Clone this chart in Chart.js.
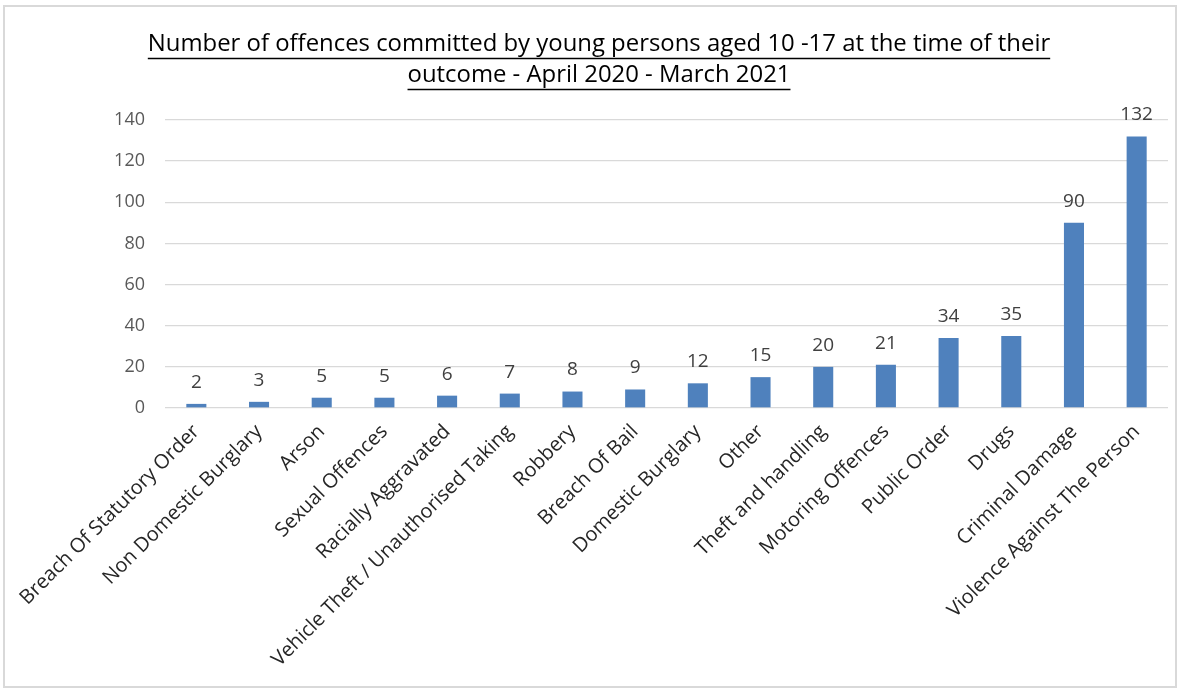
<!DOCTYPE html>
<html>
<head>
<meta charset="utf-8">
<script src="https://cdn.jsdelivr.net/npm/chart.js@4"></script>
<style>
    html, body { margin: 0; padding: 0; background: #fff; }
    #wrap { width: 1180px; height: 689px; position: relative; }
</style>
</head>
<body>
<div id="wrap"><canvas id="barChart"></canvas></div>
<script>
    // Data
    const categories = [
        'Breach Of Statutory Order', 'Non Domestic Burglary', 'Arson', 'Sexual Offences',
        'Racially Aggravated', 'Vehicle Theft / Unauthorised Taking', 'Robbery', 'Breach Of Bail',
        'Domestic Burglary', 'Other', 'Theft and handling', 'Motoring Offences',
        'Public Order', 'Drugs', 'Criminal Damage', 'Violence Against The Person'
    ];
    const offences = [2, 3, 5, 5, 6, 7, 8, 9, 12, 15, 20, 21, 34, 35, 90, 132];
    const yTicks = [0, 20, 40, 60, 80, 100, 120, 140];
    const titleLines = [
        'Number of offences committed by young persons aged 10 -17 at the time of their',
        'outcome - April 2020 - March 2021'
    ];

    const fontFamily = '"Open Sans", Lato, sans-serif';
    const titleSize = 23.9;
    const titleLineHeight = 31;

    // frame round the chart and white background
    const framePlugin = {
        id: 'frame',
        beforeDraw: function (chart) {
            const ctx = chart.ctx;
            ctx.save();
            ctx.fillStyle = '#ffffff';
            ctx.fillRect(0, 0, chart.width, chart.height);
            ctx.strokeStyle = '#d9d9d9';
            ctx.lineWidth = 2;
            ctx.strokeRect(4, 6, chart.width - 8, chart.height - 8);
            ctx.restore();
        }
    };

    // underline under each title line
    const underlinePlugin = {
        id: 'underline',
        afterDraw: function (chart) {
            const tb = chart.titleBlock;
            const opts = chart.options.plugins.title;
            const ctx = chart.ctx;
            ctx.save();
            ctx.font = titleSize + 'px ' + fontFamily;
            ctx.strokeStyle = '#000';
            ctx.lineWidth = 1.5;
            const cx = (tb.left + tb.right) / 2;
            titleLines.forEach(function (line, i) {
                const w = ctx.measureText(line).width;
                const y = Math.round(tb.top + opts.padding.top + titleLineHeight / 2 + i * titleLineHeight + titleSize * 0.55) + 0.5;
                ctx.beginPath();
                ctx.moveTo(cx - w / 2, y);
                ctx.lineTo(cx + w / 2, y);
                ctx.stroke();
            });
            ctx.restore();
        }
    };

    // value labels above bars
    const valueLabels = {
        id: 'valueLabels',
        afterDatasetsDraw: function (chart) {
            const ctx = chart.ctx;
            const meta = chart.getDatasetMeta(0);
            ctx.save();
            ctx.font = '19px ' + fontFamily;
            ctx.fillStyle = '#404040';
            ctx.textAlign = 'center';
            ctx.textBaseline = 'bottom';
            meta.data.forEach(function (bar, i) {
                ctx.fillText(offences[i], bar.x, bar.y - 12);
            });
            ctx.restore();
        }
    };

    new Chart(document.getElementById('barChart'), {
        type: 'bar',
        data: {
            labels: categories,
            datasets: [{
                label: 'Offences',
                data: offences,
                backgroundColor: '#4f81bd',
                categoryPercentage: 1,
                barPercentage: 0.32
            }]
        },
        options: {
            responsive: true,
            maintainAspectRatio: false,
            animation: false,
            layout: { padding: { top: 0, right: 12, bottom: 0, left: 30 } },
            plugins: {
                legend: { display: false },
                tooltip: { enabled: false },
                title: {
                    display: true,
                    text: titleLines,
                    color: '#000',
                    font: { family: fontFamily, size: titleSize, weight: 'normal', lineHeight: titleLineHeight + 'px' },
                    padding: { top: 29, bottom: 29 }
                }
            },
            scales: {
                x: {
                    grid: { display: false },
                    border: { display: false },
                    ticks: {
                        color: '#262626',
                        font: { family: fontFamily, size: 20 },
                        maxRotation: 45,
                        minRotation: 45,
                        autoSkip: false,
                        padding: 4
                    },
                    afterFit: function (scale) { scale.height = 281; }
                },
                y: {
                    min: 0,
                    max: 140,
                    grid: { color: '#d9d9d9', lineWidth: 1.3, drawTicks: false },
                    border: { display: false },
                    afterBuildTicks: function (scale) {
                        scale.ticks = yTicks.map(function (v) { return { value: v }; });
                    },
                    ticks: {
                        color: '#595959',
                        font: { family: fontFamily, size: 18 },
                        padding: 20
                    },
                    afterFit: function (scale) { scale.width = 135; }
                }
            }
        },
        plugins: [framePlugin, underlinePlugin, valueLabels]
    });
</script>
</body>
</html>
